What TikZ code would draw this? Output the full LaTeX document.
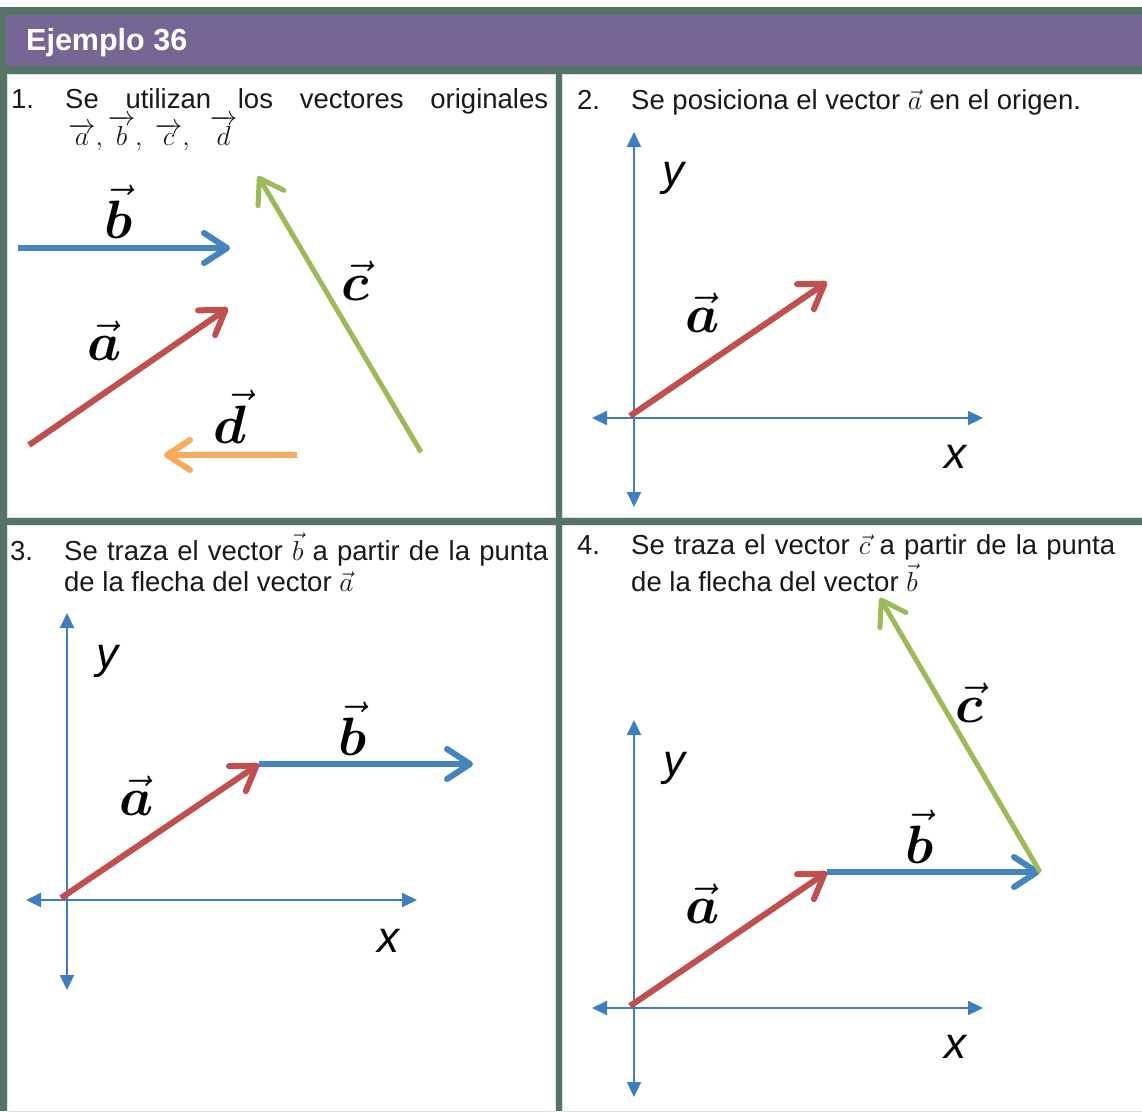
\RequirePackage{fix-cm}
\documentclass[tikz,border=0pt]{standalone}
\usepackage{amsmath}
\usepackage{amssymb}
\usepackage{bm}
\usepackage{fontspec}
\setmainfont{Liberation Sans}
\usetikzlibrary{arrows.meta}
\definecolor{frame-color}{RGB}{85,115,102}
\definecolor{header-color}{RGB}{119,101,150}
\definecolor{text-color}{RGB}{25,25,25}
\definecolor{axis-color}{RGB}{62,126,190}
\definecolor{vec-a-color}{RGB}{192,80,77}
\definecolor{vec-b-color}{RGB}{70,132,192}
\definecolor{vec-c-color}{RGB}{155,187,89}
\definecolor{vec-d-color}{RGB}{249,170,92}

\begin{document}
\begin{tikzpicture}[x=1pt, y=-1pt,
    celltext/.style={anchor=base west, inner sep=0pt, text=text-color, font=\fontsize{27.5}{32}\selectfont},
    veclabel/.style={anchor=base, inner sep=0pt, text=black, font=\fontsize{54}{60}\selectfont},
    axislabel/.style={anchor=base, inner sep=0pt, text=black, font=\fontsize{44}{50}\selectfont\itshape},
    axis/.style={draw=axis-color, line width=2.2pt, {Triangle[length=15pt,width=14pt]}-{Triangle[length=15pt,width=14pt]}},
    vecarrow/.style={line width=6pt, -{Straight Barb[length=23pt,width=30pt,round]},
        preaction={draw=black, opacity=0.15, transform canvas={xshift=1.5pt, yshift=-2.5pt}}},
    vec-a/.style={vecarrow, draw=vec-a-color},
    vec-b/.style={vecarrow, draw=vec-b-color},
    vec-c/.style={vecarrow, draw=vec-c-color, line width=5pt},
    vec-d/.style={vecarrow, draw=vec-d-color}]
    \useasboundingbox (0,0) rectangle (1142,1111);
    \fill[white] (0,0) rectangle (1142,1111);

    % frame, header and the four cells
    \fill[frame-color] (0,7) rectangle (1142,1111);
    \fill[header-color] (6,15) rectangle (1142,66);
    \filldraw[fill=white, draw=black!12, line width=1pt] (7,74) rectangle (555,517);
    \filldraw[fill=white, draw=black!12, line width=1pt] (562,74) rectangle (1142,517);
    \filldraw[fill=white, draw=black!12, line width=1pt] (7,525) rectangle (555,1111);
    \filldraw[fill=white, draw=black!12, line width=1pt] (562,525) rectangle (1142,1111);
    \node[anchor=base west, inner sep=0pt, text=white, font=\fontsize{30.5}{36}\selectfont\bfseries] (title) at (26,50) {Ejemplo 36};

    % Step 1 - the original vectors
    \node[celltext] (num1) at (11,108) {1.};
    \node[celltext] (text1a) at (65,108) {\makebox[483pt][s]{Se utilizan los vectores originales}};
    \node[celltext] (text1b) at (68,145) {$\overrightarrow{a},\overrightarrow{b},\ \overrightarrow{c},\ \ \overrightarrow{d}$};
    \coordinate (a1-start) at (29,445);
    \coordinate (a1-end) at (228,308);
    \coordinate (b1-start) at (18,248);
    \coordinate (b1-end) at (230,248);
    \coordinate (c1-start) at (421,452);
    \coordinate (c1-end) at (258,176);
    \coordinate (d1-start) at (297,455);
    \coordinate (d1-end) at (164,455);
    \draw[vec-b] (b1-start) -- (b1-end);
    \draw[vec-a] (a1-start) -- (a1-end);
    \draw[vec-c] (c1-start) -- (c1-end);
    \draw[vec-d] (d1-start) -- (d1-end);
    \node[veclabel] (lab-b1) at (119,238) {$\vec{\bm{b}}$};
    \node[veclabel] (lab-a1) at (105,360) {$\vec{\bm{a}}$};
    \node[veclabel] (lab-c1) at (355,300) {$\vec{\bm{c}}$};
    \node[veclabel] (lab-d1) at (230,443) {$\vec{\bm{d}}$};

    % Step 2 - a at the origin
    \node[celltext] (num2) at (577,109) {2.};
    \node[celltext] (text2) at (631,109) {Se posiciona el vector $\vec{a}$ en el origen.};
    \coordinate (x2-left) at (592,418);
    \coordinate (x2-right) at (983,418);
    \coordinate (y2-bottom) at (634,507);
    \coordinate (y2-top) at (634,132);
    \draw[axis] (x2-left) -- (x2-right);
    \draw[axis] (y2-bottom) -- (y2-top);
    \coordinate (a2-start) at (630,416);
    \coordinate (a2-end) at (827,282);
    \draw[vec-a] (a2-start) -- (a2-end);
    \node[veclabel] (lab-a2) at (703,332) {$\vec{\bm{a}}$};
    \node[axislabel] (lab-x2) at (955,468) {x};
    \node[axislabel] (lab-y2) at (673,185) {y};

    % Step 3 - b from the tip of a
    \node[celltext] (num3) at (10,560) {3.};
    \node[celltext] (text3a) at (64,560) {\makebox[484pt][s]{Se traza el vector $\vec{b}$ a partir de la punta}};
    \node[celltext] (text3b) at (64,591) {de la flecha del vector $\vec{a}$};
    \coordinate (x3-left) at (26,900);
    \coordinate (x3-right) at (417,900);
    \coordinate (y3-bottom) at (67,990);
    \coordinate (y3-top) at (67,613);
    \draw[axis] (x3-left) -- (x3-right);
    \draw[axis] (y3-bottom) -- (y3-top);
    \coordinate (a3-start) at (61,898);
    \coordinate (a3-end) at (259,764);
    \coordinate (b3-end) at (473,764);
    \draw[vec-b] (a3-end) -- (b3-end);
    \draw[vec-a] (a3-start) -- (a3-end);
    \node[veclabel] (lab-a3) at (137,815) {$\vec{\bm{a}}$};
    \node[veclabel] (lab-b3) at (353,755) {$\vec{\bm{b}}$};
    \node[axislabel] (lab-x3) at (388,952) {x};
    \node[axislabel] (lab-y3) at (107,668) {y};

    % Step 4 - c from the tip of b
    \node[celltext] (num4) at (577,554) {4.};
    \node[celltext] (text4a) at (631,554) {\makebox[484pt][s]{Se traza el vector $\vec{c}$ a partir de la punta}};
    \node[celltext] (text4b) at (631,591) {de la flecha del vector $\vec{b}$};
    \coordinate (x4-left) at (592,1008);
    \coordinate (x4-right) at (983,1008);
    \coordinate (y4-bottom) at (634,1097);
    \coordinate (y4-top) at (634,720);
    \draw[axis] (x4-left) -- (x4-right);
    \draw[axis] (y4-bottom) -- (y4-top);
    \coordinate (a4-start) at (630,1006);
    \coordinate (a4-end) at (827,872);
    \coordinate (b4-end) at (1040,872);
    \coordinate (c4-end) at (880,598);
    \draw[vec-b] (a4-end) -- (b4-end);
    \draw[vec-a] (a4-start) -- (a4-end);
    \draw[vec-c] (b4-end) -- (c4-end);
    \node[veclabel] (lab-a4) at (703,923) {$\vec{\bm{a}}$};
    \node[veclabel] (lab-b4) at (920,863) {$\vec{\bm{b}}$};
    \node[veclabel] (lab-c4) at (969,722) {$\vec{\bm{c}}$};
    \node[axislabel] (lab-x4) at (955,1058) {x};
    \node[axislabel] (lab-y4) at (674,775) {y};
\end{tikzpicture}
\end{document}
